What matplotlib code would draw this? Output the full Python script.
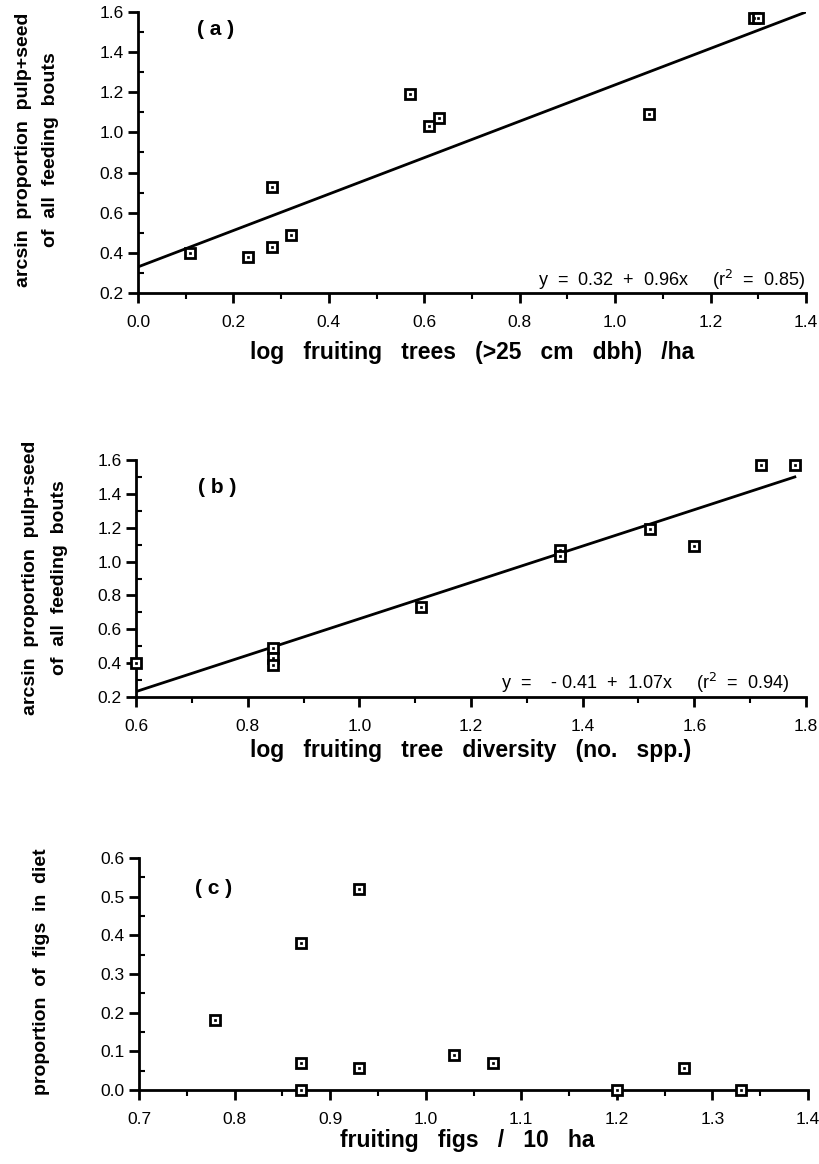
import matplotlib
matplotlib.use("Agg")
import matplotlib.pyplot as plt
from matplotlib.ticker import MultipleLocator, FormatStrFormatter

# panel (a): log fruiting trees vs arcsin proportion pulp+seed
a_x = [0.11, 0.23, 0.28, 0.28, 0.32, 0.57, 0.61, 0.63, 1.07, 1.29, 1.30]
a_y = [0.40, 0.38, 0.73, 0.43, 0.49, 1.19, 1.03, 1.07, 1.09, 1.57, 1.57]
a_line_x = [0.0, 1.4]
a_line_y = [0.33, 1.60]

# panel (b): log fruiting tree diversity
b_x = [0.60, 0.845, 0.845, 0.845, 1.11, 1.36, 1.36, 1.52, 1.60, 1.72, 1.78]
b_y = [0.40, 0.49, 0.43, 0.39, 0.73, 1.07, 1.03, 1.19, 1.09, 1.57, 1.57]
b_line_x = [0.60, 1.78]
b_line_y = [0.232, 1.50]

# panel (c): fruiting figs vs proportion of figs in diet
c_x = [0.78, 0.87, 0.87, 0.87, 0.93, 0.93, 1.03, 1.07, 1.20, 1.27, 1.33]
c_y = [0.18, 0.38, 0.07, 0.00, 0.52, 0.058, 0.09, 0.07, 0.00, 0.056, -0.001]

plt.rcParams['font.family'] = ['Liberation Sans', 'DejaVu Sans']

W, H = 820, 1164
fig = plt.figure(figsize=(8.2, 11.64), dpi=100)

ylab_font = dict(fontweight='bold', fontsize=14)
xlab_font = dict(fontweight='bold', fontsize=16.5)
eq_font = dict(fontsize=13)
panel_font = dict(fontweight='bold', fontsize=15)


def px(x, y):
    # pixel position -> figure fraction
    return x / W, 1 - y / H


def style_ax(ax, xmaj, xmin, ymaj, ymin):
    for s in ['top', 'right']:
        ax.spines[s].set_visible(False)
    for s in ['left', 'bottom']:
        ax.spines[s].set_linewidth(2)
    ax.xaxis.set_major_locator(MultipleLocator(xmaj))
    ax.xaxis.set_minor_locator(MultipleLocator(xmin))
    ax.yaxis.set_major_locator(MultipleLocator(ymaj))
    ax.yaxis.set_minor_locator(MultipleLocator(ymin))
    ax.xaxis.set_major_formatter(FormatStrFormatter('%.1f'))
    ax.yaxis.set_major_formatter(FormatStrFormatter('%.1f'))
    ax.tick_params(which='major', direction='out', length=7, width=2, labelsize=12.5)
    ax.tick_params(axis='x', which='major', pad=9)
    ax.tick_params(axis='x', which='minor', direction='out', length=4, width=1.5)
    ax.tick_params(axis='y', which='minor', direction='in', length=4, width=1.5)


def squares(ax, x, y):
    ax.plot(x, y, 's', ms=7, mfc='white', mec='black', mew=2, ls='none',
            clip_on=False, zorder=3)
    ax.plot(x, y, 's', ms=1.5, mfc='black', mec='black', mew=0.5, ls='none',
            clip_on=False, zorder=4)


ylab2 = 'arcsin  proportion  pulp+seed\nof  all  feeding  bouts'

# (a)
ax1 = fig.add_axes([138 / W, 1 - 293 / H, 668 / W, 281 / H])
ax1.plot(a_line_x, a_line_y, color='black', lw=2)
squares(ax1, a_x, a_y)
ax1.set_xlim(0.0, 1.4)
ax1.set_ylim(0.2, 1.6)
style_ax(ax1, 0.2, 0.1, 0.2, 0.1)
ax1.text(0.124, 1.515, '( a )', va='center', **panel_font)
ax1.text(1.398, 0.265, 'y  =  0.32  +  0.96x     (r$^{2}$  =  0.85)',
         ha='right', va='center', **eq_font)
fig.text(*px(472, 352), 'log   fruiting   trees   (>25   cm   dbh)   /ha',
         ha='center', va='center', **xlab_font)
fig.text(*px(37, 150), ylab2, rotation=90, ha='center', va='center',
         linespacing=1.8, **ylab_font)

# (b)
ax2 = fig.add_axes([136 / W, 1 - 697 / H, 670 / W, 237 / H])
ax2.plot(b_line_x, b_line_y, color='black', lw=2)
squares(ax2, b_x, b_y)
ax2.set_xlim(0.6, 1.8)
ax2.set_ylim(0.2, 1.6)
style_ax(ax2, 0.2, 0.1, 0.2, 0.1)
ax2.text(0.711, 1.44, '( b )', va='center', **panel_font)
ax2.text(1.77, 0.285, 'y  =    - 0.41  +  1.07x     (r$^{2}$  =  0.94)',
         ha='right', va='center', **eq_font)
fig.text(*px(471, 750), 'log   fruiting   tree   diversity   (no.   spp.)',
         ha='center', va='center', **xlab_font)
fig.text(*px(45, 578), ylab2, rotation=90, ha='center', va='center',
         linespacing=1.9, **ylab_font)

# (c)
ax3 = fig.add_axes([139 / W, 1 - 1090 / H, 669 / W, 232 / H])
squares(ax3, c_x, c_y)
ax3.set_xlim(0.7, 1.4)
ax3.set_ylim(0.0, 0.6)
style_ax(ax3, 0.1, 0.05, 0.1, 0.05)
ax3.text(0.759, 0.52, '( c )', va='center', **panel_font)
fig.text(*px(467, 1140), 'fruiting   figs   /   10   ha',
         ha='center', va='center', **xlab_font)
fig.text(*px(42, 972), 'proportion  of  figs  in  diet', rotation=90,
         ha='center', va='center', **ylab_font)

fig.savefig('out.png', dpi=100)
